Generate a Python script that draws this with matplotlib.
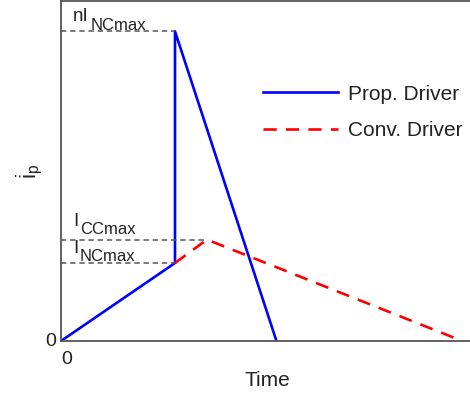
import matplotlib
matplotlib.use("Agg")
import matplotlib.pyplot as plt

plt.rcParams["font.family"] = ["Liberation Sans", "DejaVu Sans"]
plt.rcParams["mathtext.fontset"] = "custom"
plt.rcParams["mathtext.rm"] = "Liberation Sans"
plt.rcParams["mathtext.it"] = "Liberation Sans:italic"

# === Data (time in units of t1, current in units of I_NCmax) ===
prop_t = [0.0, 1.0, 1.0, 1.89]
prop_i = [0.0, 1.0, 3.97, 0.0]
conv_t = [1.0, 1.28, 3.52]
conv_i = [1.0, 1.30, 0.0]

i_nc = 1.0
i_cc = 1.30
ni_nc = 3.97
t_switch = 1.0
t_cc_peak = 1.28

grey = "#555555"
txt = "#222222"


def sub_label(ax, x, y, main, sub, main_w):
    # main text plus a larger-than-mathtext subscript
    ax.annotate(main, (x, y), fontsize=13.5, color=txt, va="baseline")
    ax.annotate(sub, (x, y), xytext=(main_w, -6), textcoords="offset points",
                fontsize=12, color=txt, va="baseline")


fig = plt.figure(figsize=(4.7, 3.96), dpi=100)
ax = fig.add_axes([61 / 470, 55 / 396, 430 / 470, 340 / 396])

ax.plot(prop_t, prop_i, color="#0000ff", lw=1.9, label="Prop. Driver")
ax.plot(conv_t, conv_i, color="#ff0000", lw=1.9, dashes=(5, 3.5), label="Conv. Driver")

# guide lines
ax.plot([0, t_switch], [ni_nc, ni_nc], color=grey, lw=1.1, dashes=(3.5, 2.5))
ax.plot([0, t_cc_peak], [i_cc, i_cc], color=grey, lw=1.1, dashes=(3.5, 2.5))
ax.plot([0, t_switch], [i_nc, i_nc], color=grey, lw=1.1, dashes=(3.5, 2.5))

sub_label(ax, 0.10, ni_nc + 0.13, "nI", "NCmax", 13.0)
sub_label(ax, 0.11, i_cc + 0.18, "I", "CCmax", 4.5)
sub_label(ax, 0.11, i_nc + 0.13, "I", "NCmax", 4.5)

ax.set_xlim(0, 430 / 114)
ax.set_ylim(0, 340 / 78)
ax.set_xticks([])
ax.set_yticks([])
ax.text(-0.04, 0, "0", fontsize=14, ha="right", va="center", color=txt)
ax.text(0.05, -0.13, "0", fontsize=14, ha="center", va="top", color=txt)

ax.set_xlabel("Time", fontsize=15, color=txt)
ax.xaxis.set_label_coords(206 / 430, -30 / 340)
ax.set_ylabel(r"$\dot{\mathrm{i}}_{\mathrm{p}}$", fontsize=16, color=txt)
ax.yaxis.set_label_coords(-16 / 430, 0.5)

for side in ["left", "bottom", "top"]:
    ax.spines[side].set_color(grey)
    ax.spines[side].set_linewidth(1.3)
ax.spines["right"].set_visible(False)

leg = ax.legend(loc="upper left", bbox_to_anchor=(183 / 430, 0.809), frameon=False,
                fontsize=15, handlelength=3.6, handletextpad=0.5, labelspacing=0.85)
for t in leg.get_texts():
    t.set_color(txt)

fig.savefig("out.png", dpi=100)
